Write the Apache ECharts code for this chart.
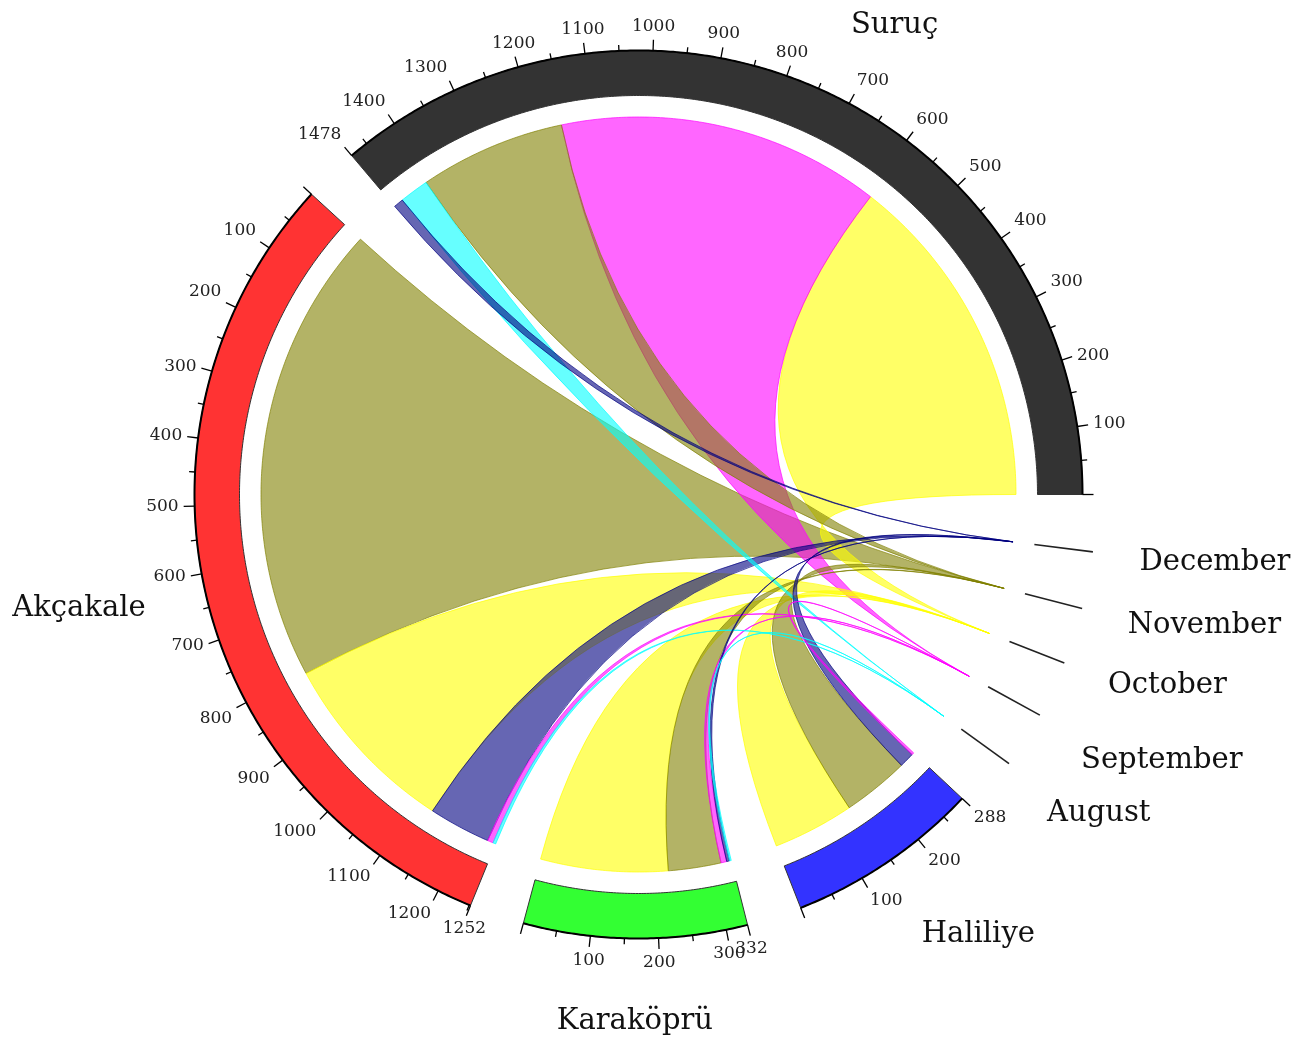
<!DOCTYPE html>
<html>
<head>
<meta charset="utf-8">
<title>Chord diagram</title>
<script src="https://cdn.jsdelivr.net/npm/echarts@6/dist/echarts.min.js"></script>
<style>
  html, body { margin: 0; padding: 0; background: #ffffff; }
  #chart { width: 1309px; height: 1041px; }
</style>
</head>
<body>
<div id="chart"></div>
<script>
// Districts and months, in counter-clockwise order around the circle
const districtNames = ['Suruç', 'Akçakale', 'Karaköprü', 'Haliliye'];
const monthNames = ['August', 'September', 'October', 'November', 'December'];

// Counts per district, one entry per month (August .. December)
const suruc     = [51, 564, 591, 255, 17];
const akcakale  = [5, 10, 325, 804, 108];
const karakopru = [3, 10, 222, 92, 5];
const haliliye  = [0, 4, 142, 116, 26];

const districtColors = ['#000000', '#ff0000', '#00ff00', '#0000ff'];
const monthColors = ['#00ffff', '#ff00ff', '#ffff00', '#808000', '#000080'];

// ---- layout constants (pixels on the radius axis, degrees on the angle axis)
const R_OUT = 444, R_IN = 399, R_RIB = 377.5;
const R_TICKLABEL = 460, R_NAME = 505, R_MONTHTICK = 458;
const FONT = '"DejaVu Serif", "Liberation Serif", serif';

const matrix = [suruc, akcakale, karakopru, haliliye];
const monthOffset = districtNames.length;
const nodeNames = districtNames.concat(monthNames);
const nodeSizes = matrix.map(r => r.reduce((a, b) => a + b, 0)).concat(monthNames.map(() => 0));
const GAP = 360 / 50;
const UNIT = (360 - GAP * nodeNames.length) / nodeSizes.reduce((a, b) => a + b, 0);
const nodeStart = [];
let acc = 0;
nodeSizes.forEach(s => { nodeStart.push(acc); acc += s * UNIT + GAP; });

// Ribbons: inside each district the months are stacked from largest to smallest
const links = [];
matrix.forEach((row, d) => {
  const order = row.map((v, m) => ({ v, m })).filter(o => o.v > 0).sort((a, b) => b.v - a.v);
  let off = 0;
  order.forEach(o => {
    links.push({
      d, m: o.m, value: o.v,
      a0: nodeStart[d] + off * UNIT,
      a1: nodeStart[d] + (off + o.v) * UNIT,
      tip: nodeStart[monthOffset + o.m]
    });
    off += o.v;
  });
});
const drawOrder = links.map((l, i) => i).sort((a, b) => links[b].value - links[a].value);

function arc(api, r, a0, a1) {
  const n = Math.max(2, Math.ceil(Math.abs(a1 - a0) / 0.4));
  const out = [];
  for (let i = 0; i <= n; i++) out.push(api.coord([r, a0 + (a1 - a0) * i / n]));
  return out;
}

// Horizontal text placed outside the circle, anchored on the side facing the centre
function label(api, r, a, text, size, color, dy) {
  const p = api.coord([r, a]);
  const rad = a * Math.PI / 180, c = Math.cos(rad), s = Math.sin(rad);
  const align = c > 0.4 ? 'left' : (c < -0.4 ? 'right' : 'center');
  const valign = s > 0.4 ? 'bottom' : (s < -0.4 ? 'top' : 'middle');
  const shift = dy ? dy + (valign === 'top' ? 3 : 0) : 0;
  return {
    type: 'text', x: p[0], y: p[1] + shift, z2: 20,
    style: { text, fill: color, fontSize: size, fontFamily: FONT, align, verticalAlign: valign }
  };
}

function ribbonItem(params, api) {
  const l = links[api.value(2)];
  const c = api.coord([0, 0]);
  const edge = arc(api, R_RIB, l.a0, l.a1);
  const tip = api.coord([R_RIB, l.tip]);
  let d = 'M' + edge[0][0] + ' ' + edge[0][1];
  for (let i = 1; i < edge.length; i++) d += ' L' + edge[i][0] + ' ' + edge[i][1];
  d += ' Q' + c[0] + ' ' + c[1] + ' ' + tip[0] + ' ' + tip[1];
  d += ' Q' + c[0] + ' ' + c[1] + ' ' + edge[0][0] + ' ' + edge[0][1] + ' Z';
  const col = monthColors[l.m];
  return {
    type: 'path',
    shape: { pathData: d },
    style: { fill: echarts.color.modifyAlpha(col, 0.6), stroke: echarts.color.modifyAlpha(col, 0.85), lineWidth: 0.8 }
  };
}

function nodeItem(params, api) {
  const i = api.value(2);
  const start = nodeStart[i], size = nodeSizes[i];
  const children = [];
  if (i < monthOffset) {
    const end = start + size * UNIT;
    const outer = arc(api, R_OUT, start, end);
    const inner = arc(api, R_IN, end, start);
    children.push({
      type: 'polygon', shape: { points: outer.concat(inner) },
      style: { fill: echarts.color.modifyAlpha(districtColors[i], 0.8), stroke: '#333333', lineWidth: 1 }
    });
    children.push({
      type: 'polyline', shape: { points: outer },
      style: { stroke: '#000000', lineWidth: 2, fill: null }
    });
    const vals = [];
    for (let v = 0; v <= size; v += 50) vals.push(v);
    if (size % 50 !== 0) vals.push(size);
    vals.forEach(v => {
      const a = start + v * UNIT;
      const major = v % 100 === 0 || v === size;
      const p0 = api.coord([R_OUT, a]);
      const p1 = api.coord([R_OUT + (major ? 11 : 6), a]);
      children.push({
        type: 'line', shape: { x1: p0[0], y1: p0[1], x2: p1[0], y2: p1[1] },
        style: { stroke: '#000000', lineWidth: 1.3 }
      });
      if (major && v > 0) children.push(label(api, R_TICKLABEL, a, String(v), 17, '#222222', 0));
    });
    children.push(label(api, R_NAME, start + size * UNIT / 2, nodeNames[i], 29, '#111111', 4));
  } else {
    const p0 = api.coord([R_IN, start]);
    const p1 = api.coord([R_MONTHTICK, start]);
    children.push({
      type: 'line', shape: { x1: p0[0], y1: p0[1], x2: p1[0], y2: p1[1] },
      style: { stroke: '#222222', lineWidth: 1.6 }
    });
    children.push(label(api, R_NAME, start, nodeNames[i], 29, '#111111', 5));
  }
  return { type: 'group', children };
}

const chart = echarts.init(document.getElementById('chart'), null, { renderer: 'canvas' });
chart.setOption({
  backgroundColor: '#ffffff',
  animation: false,
  polar: { center: [638.5, 494.5], radius: R_OUT },
  angleAxis: { type: 'value', min: 0, max: 360, startAngle: 0, clockwise: false, show: false },
  radiusAxis: { type: 'value', min: 0, max: R_OUT, show: false },
  series: [
    {
      type: 'custom',
      name: 'ribbons',
      coordinateSystem: 'polar',
      encode: { radius: 0, angle: 1 },
      data: drawOrder.map(i => [R_RIB, links[i].a0, i]),
      renderItem: ribbonItem,
      silent: true,
      z: 1
    },
    {
      type: 'custom',
      name: 'nodes',
      coordinateSystem: 'polar',
      encode: { radius: 0, angle: 1 },
      data: nodeNames.map((n, i) => [R_OUT, nodeStart[i], i]),
      renderItem: nodeItem,
      silent: true,
      z: 2
    }
  ]
});
</script>
</body>
</html>
